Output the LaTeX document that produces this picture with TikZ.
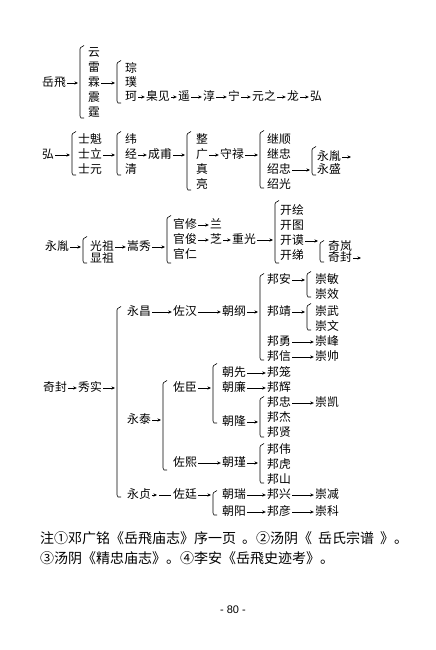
\documentclass[tikz,border=0pt]{standalone}
\usepackage{fontspec}
\setmainfont{Liberation Sans}
\newfontfamily\cjk{Noto Sans CJK SC}
\usetikzlibrary{arrows.meta}
\begin{document}
\begin{tikzpicture}[x=1pt,y=-1pt,
  t/.style={anchor=west,inner sep=0pt,text height=9.4pt,text depth=1.6pt,font=\cjk\fontsize{11.8}{11.8}\selectfont},
  arr/.style={-{Stealth[length=3.6pt,width=3.2pt]},line width=0.6pt},
  ln/.style={line width=0.6pt},
  brkline/.style={line width=0.6pt},
  note/.style={anchor=west,inner sep=0pt,font=\cjk\fontsize{14}{14}\selectfont}]
\useasboundingbox[fill=white] (0,0) rectangle (436,650);
\newcommand\brk[4]{\draw[brkline] (#2+4,#3-1.5) -- (#2+0.6,#3+0.6) -- (#2,#3+2) -- (#2,#4-2) -- (#2+1,#4) -- (#2+4,#4);
  \coordinate (#1) at (#2-2,{(#3+#4)/2});}
\newcommand\ar[2]{\draw[arr] ([xshift=1.2pt]#1.east) -- ([xshift=-1.2pt]#2.west);}
\newcommand\arb[2]{\draw[arr] ([xshift=1.2pt]#1.east) -- (#1.east -| #2);}
% ---------- group 1
\node[t] (yf) at (42,83) {岳飛};
\brk{b1}{80}{47}{118}
\arb{yf}{b1}
\node[t] (yun) at (88,53) {云};
\node[t] (lei) at (88,68) {雷};
\node[t] (lin) at (88,83) {霖};
\node[t] (zhen) at (88,98) {震};
\node[t] (ting) at (88,113) {霆};
\brk{b2}{117}{62}{103}
\arb{lin}{b2}
\node[t] (cong) at (125,69) {琮};
\node[t] (pu) at (125,83) {璞};
\node[t] (ke) at (125,97) {珂};
\node[t] (nie) at (146,97) {臬见};
\node[t] (yao) at (178,97) {遥};
\node[t] (chun) at (203,97) {淳};
\node[t] (ning) at (228,97) {宁};
\node[t] (yzh) at (252,97) {元之};
\node[t] (long) at (287,97) {龙};
\node[t] (hong) at (310,97) {弘};
\ar{ke}{nie}\ar{nie}{yao}\ar{yao}{chun}\ar{chun}{ning}\ar{ning}{yzh}\ar{yzh}{long}\ar{long}{hong}
% ---------- group 2
\node[t] (hong2) at (42,155) {弘};
\brk{b3}{72}{133}{175}
\arb{hong2}{b3}
\node[t] (skui) at (78,140) {士魁};
\node[t] (sli) at (78,155) {士立};
\node[t] (syuan) at (78,170) {士元};
\brk{b4}{117}{133}{175}
\arb{sli}{b4}
\node[t] (wei) at (125,140) {纬};
\node[t] (jing) at (125,155) {经};
\node[t] (qing) at (125,170) {清};
\node[t] (cf) at (148,155) {成甫};
\ar{jing}{cf}
\brk{b5}{187}{133}{190}
\arb{cf}{b5}
\node[t] (zheng) at (196,140) {整};
\node[t] (guang) at (196,155) {广};
\node[t] (zhen2) at (196,170) {真};
\node[t] (liang) at (196,185) {亮};
\node[t] (sl) at (220,155) {守禄};
\ar{guang}{sl}
\brk{b6}{260}{132}{188}
\arb{sl}{b6}
\node[t] (jsh) at (267,140) {继顺};
\node[t] (jzh) at (267,155) {继忠};
\node[t] (szh) at (267,170) {绍忠};
\node[t] (sg) at (267,185) {绍光};
\brk{b7}{312}{148}{175}
\arb{szh}{b7}
\node[t] (yy) at (317,157) {永胤};
\node[t] (ys) at (317,170) {永盛};
\coordinate (yyend) at (351,157);
\draw[arr] ([xshift=1.2pt]yy.east) -- (yyend);
% ---------- group 3
\node[t] (yy2) at (45,247) {永胤};
\brk{b8}{83}{238}{263}
\arb{yy2}{b8}
\node[t] (gz) at (90,247) {光祖};
\node[t] (xz) at (90,259) {显祖};
\node[t] (sx) at (127,247) {嵩秀};
\ar{gz}{sx}
\brk{b9}{167}{217}{263}
\arb{sx}{b9}
\node[t] (gx) at (173,225) {官修};
\node[t] (lan) at (210,225) {兰};
\ar{gx}{lan}
\node[t] (gj) at (173,240) {官俊};
\node[t] (zhi) at (210,240) {芝};
\node[t] (zg) at (232,240) {重光};
\ar{gj}{zhi}\ar{zhi}{zg}
\node[t] (gr) at (173,255) {官仁};
\brk{b10}{275}{202}{263}
\arb{zg}{b10}
\node[t] (kh) at (280,211) {开绘};
\node[t] (kt) at (280,226) {开图};
\node[t] (km) at (280,241) {开谟};
\node[t] (kti) at (280,256) {开绨};
\brk{b11}{320}{242}{262}
\arb{km}{b11}
\node[t] (ql) at (328,247) {奇岚};
\node[t] (qf) at (328,258) {奇封};
\coordinate (qfend) at (361,258);
\draw[arr] ([xshift=1.2pt]qf.east) -- (qfend);
% ---------- group 4
\node[t] (qf2) at (43,388) {奇封};
\node[t] (xs) at (78,388) {秀实};
\ar{qf2}{xs}
\brk{b12}{117}{308}{497}
\arb{xs}{b12}
% 永昌 branch
\node[t] (yc) at (127,312) {永昌};
\node[t] (zh) at (173,312) {佐汉};
\node[t] (cg) at (222,312) {朝纲};
\ar{yc}{zh}\ar{zh}{cg}
\brk{b13}{260}{275}{360}
\arb{cg}{b13}
\node[t] (ba) at (267,280) {邦安};
\brk{b14}{307}{273}{297}
\arb{ba}{b14}
\node[t] (cm) at (315,280) {崇敏};
\node[t] (cx) at (315,295) {崇效};
\node[t] (bj) at (267,312) {邦靖};
\brk{b15}{307}{305}{330}
\arb{bj}{b15}
\node[t] (cw) at (315,312) {崇武};
\node[t] (cwn) at (315,327) {崇文};
\node[t] (by) at (267,342) {邦勇};
\node[t] (cfe) at (315,342) {崇峰};
\ar{by}{cfe}
\node[t] (bx) at (267,357) {邦信};
\node[t] (cs) at (315,357) {崇帅};
\ar{bx}{cs}
% 永泰 branch
\node[t] (yt) at (127,420) {永泰};
\brk{b16}{163}{382}{470}
\arb{yt}{b16}
\node[t] (zc) at (173,388) {佐臣};
\brk{b17}{213}{365}{423}
\arb{zc}{b17}
\node[t] (cxn) at (222,373) {朝先};
\node[t] (bl) at (267,373) {邦笼};
\ar{cxn}{bl}
\node[t] (cl) at (222,388) {朝廉};
\node[t] (bh) at (267,388) {邦辉};
\ar{cl}{bh}
\node[t] (clg) at (222,422) {朝隆};
\brk{b18}{260}{398}{437}
\arb{clg}{b18}
\node[t] (bz) at (267,403) {邦忠};
\node[t] (ck) at (315,403) {崇凯};
\ar{bz}{ck}
\node[t] (bjie) at (267,418) {邦杰};
\node[t] (bxian) at (267,433) {邦贤};
\node[t] (zx) at (173,463) {佐熙};
\node[t] (cj) at (222,463) {朝瑾};
\ar{zx}{cj}
\brk{b19}{260}{445}{483}
\arb{cj}{b19}
\node[t] (bw) at (267,450) {邦伟};
\node[t] (bhu) at (267,465) {邦虎};
\node[t] (bs) at (267,480) {邦山};
% 永贞 branch
\node[t] (yzn) at (127,495) {永贞};
\node[t] (zt) at (173,495) {佐廷};
\coordinate (yzm) at (157,495);
\draw[arr] ([xshift=1.2pt]yzn.east) -- (yzm);
\draw[ln] ([xshift=2pt]yzm) -- ([xshift=-2.5pt]zt.west);
\brk{b20}{213}{492}{515}
\arb{zt}{b20}
\node[t] (cr) at (222,495) {朝瑞};
\node[t] (bxing) at (267,495) {邦兴};
\node[t] (cjn) at (315,495) {崇减};
\ar{cr}{bxing}\ar{bxing}{cjn}
\node[t] (cy) at (222,512) {朝阳};
\node[t] (byan) at (267,512) {邦彦};
\node[t] (ckx) at (315,512) {崇科};
\ar{cy}{byan}\ar{byan}{ckx}
% ---------- notes
\node[note] (n1) at (40,538) {注①邓广铭《岳飛庙志》序一页\hspace{6pt}。②汤阴《\hspace{6pt}岳氏宗谱\hspace{6pt}》。};
\node[note] (n2) at (40,558) {③汤阴《精忠庙志》。④李安《岳飛史迹考》。};
\node[inner sep=0pt,font=\fontsize{11}{11}\selectfont] (pg) at (233,610) {- 80 -};
\end{tikzpicture}
\end{document}
